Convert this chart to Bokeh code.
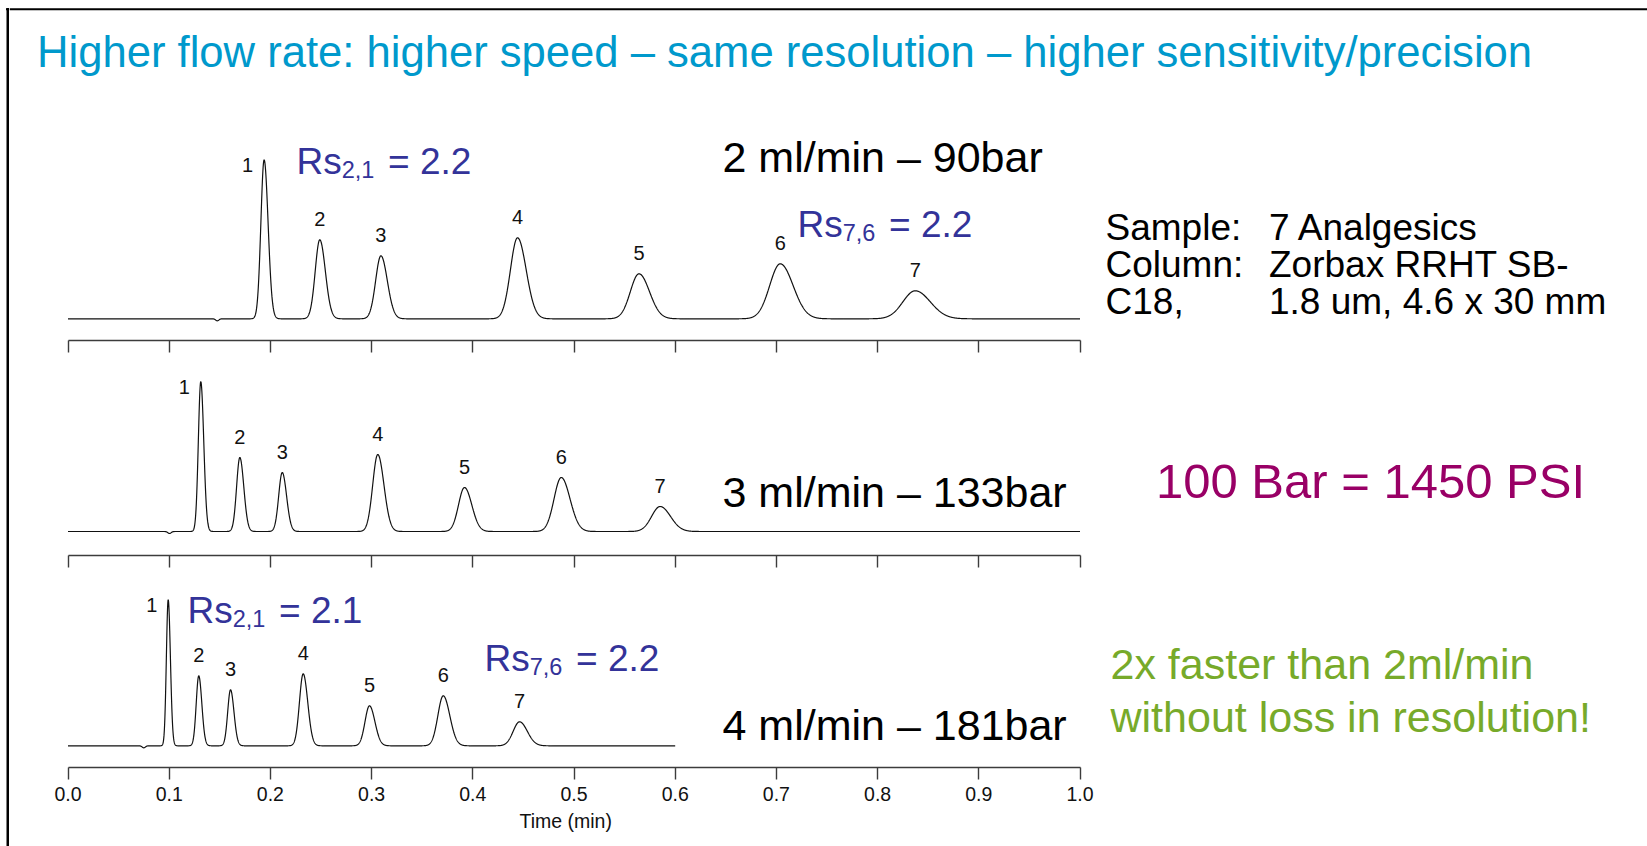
import numpy as np
from bokeh.plotting import figure
from bokeh.layouts import row, column
from bokeh.models import Range1d, FixedTicker, Title
from bokeh.core.properties import value
from bokeh.embed import file_html
from bokeh.resources import INLINE

# ---------------- data ----------------
peak_ids = ["1", "2", "3", "4", "5", "6", "7"]

rt_2ml = [0.1938, 0.2488, 0.3092, 0.4442, 0.5642, 0.7038, 0.8372]
ht_2ml = [159, 79, 63, 81, 45, 55, 28]
sd_2ml = [0.0032, 0.0045, 0.0052, 0.0070, 0.0085, 0.0104, 0.0122]

rt_3ml = [0.1312, 0.1698, 0.2117, 0.3061, 0.3918, 0.4874, 0.5851]
ht_3ml = [150, 74, 59, 77, 44, 54, 25]
sd_3ml = [0.0024, 0.0032, 0.0035, 0.0050, 0.0059, 0.0071, 0.0084]

rt_4ml = [0.0990, 0.1292, 0.1606, 0.2324, 0.2979, 0.3708, 0.4462]
ht_4ml = [146, 70, 56, 72, 40, 50, 24]
sd_4ml = [0.0018, 0.0025, 0.0028, 0.0037, 0.0044, 0.0053, 0.0063]

void_time = [0.1475, 0.1003, 0.0749]
void_depth = [-2.0, -2.0, -2.0]
run_end = [1.0, 1.0, 0.6]
conditions = ["2 ml/min \u2013 90bar", "3 ml/min \u2013 133bar", "4 ml/min \u2013 181bar"]

tick_values = [0.0, 0.1, 0.2, 0.3, 0.4, 0.5, 0.6, 0.7, 0.8, 0.9, 1.0]
tick_labels = ["0.0", "0.1", "0.2", "0.3", "0.4", "0.5", "0.6", "0.7", "0.8", "0.9", "1.0"]
axis_title = "Time (min)"

rs_pairs = ["2,1", "7,6", "2,1", "7,6"]
rs_values = ["2.2", "2.2", "2.1", "2.2"]

title_text = "Higher flow rate: higher speed \u2013 same resolution \u2013 higher sensitivity/precision"
info_keys = ["Sample:", "Column:", "C18,"]
info_vals = ["7 Analgesics", "Zorbax RRHT SB-", "1.8 um, 4.6 x 30 mm"]
pressure_note = "100 Bar = 1450 PSI"
speed_note = ["2x faster than 2ml/min", "without loss in resolution!"]

# ---------------- layout (page pixels) ----------------
FONT = "Liberation Sans"
PAGE_W, PAGE_H = 1647, 846
STRIP = 9
X0, PXM = 67.5, 1012.0
TAIL = 1.22
panels = [
    dict(top=0, axis=340, bottom=358, base=318.3),
    dict(top=358, axis=555, bottom=573, base=531.0),
    dict(top=573, axis=767, bottom=846, base=745.3),
]
series = [(rt_2ml, ht_2ml, sd_2ml), (rt_3ml, ht_3ml, sd_3ml), (rt_4ml, ht_4ml, sd_4ml)]
cond_y = [156.2, 491.8, 724.3]


def tx(X):
    return (X - X0) / PXM


def trace(t, rts, hts, sds, vt, vd):
    y = np.zeros_like(t)
    for r, h, s in zip(rts, hts, sds):
        sig = np.where(t < r, s, s * TAIL)
        y += h * np.exp(-0.5 * ((t - r) / sig) ** 2)
    y += vd * np.exp(-0.5 * ((t - vt) / 0.0016) ** 2)
    return y


figs = []
for i, pn in enumerate(panels):
    base = pn["base"]
    p = figure(width=PAGE_W - STRIP, height=pn["bottom"] - pn["top"],
               x_range=Range1d(tx(STRIP), tx(PAGE_W)),
               y_range=Range1d(base - pn["axis"], base - pn["top"]),
               toolbar_location=None, output_backend="svg",
               y_axis_type=None, outline_line_color=None,
               min_border_left=0, min_border_right=0, min_border_top=0,
               min_border_bottom=pn["bottom"] - pn["axis"])
    p.grid.grid_line_color = None
    ax = p.xaxis[0]
    ax.bounds = (0, 1)
    ax.ticker = FixedTicker(ticks=tick_values)
    ax.minor_tick_line_color = None
    ax.major_tick_in = 0
    ax.major_tick_out = 12
    ax.axis_line_color = "#3c3c3c"
    ax.major_tick_line_color = "#3c3c3c"
    ax.axis_line_width = 1.4
    ax.major_tick_line_width = 1.4
    ax.major_label_text_font = FONT
    ax.major_label_text_color = "#111111"
    if i < 2:
        ax.major_label_overrides = {v: "" for v in tick_values}
        ax.major_label_text_font_size = "0px"
        ax.major_label_standoff = 0
    else:
        ax.major_label_overrides = dict(zip(tick_values, tick_labels))
        ax.major_label_text_font_size = "19.5px"
        ax.major_label_standoff = 7
        p.add_layout(Title(text=axis_title, align="left", offset=510,
                           text_font=FONT, text_font_size="19.5px",
                           text_font_style="normal", text_color="#111111",
                           standoff=8), "below")

    rts, hts, sds = series[i]
    t = np.linspace(0, run_end[i], 4000)
    p.line(t, trace(t, rts, hts, sds, void_time[i], void_depth[i]),
           line_color="#111111", line_width=1.2)

    # peak numbers
    lx = [r + (-16.5 / PXM if k == 0 else 0) for k, r in enumerate(rts)]
    ly = [h - 5 if k == 0 else h + 20.5 for k, h in enumerate(hts)]
    p.text(x=lx, y=ly, text=peak_ids, text_font=value(FONT), text_font_size="20px",
           text_align="center", text_baseline="middle", text_color="#111111")

    # flow condition
    p.text(x=[tx(722)], y=[base - cond_y[i]], text=[conditions[i]], text_font=value(FONT),
           text_font_size="43px", text_align="left", text_baseline="alphabetic",
           text_color="#000000")
    figs.append(p)

p1, p2, p3 = figs
b1, b2, b3 = (pn["base"] for pn in panels)

# title and top border
p1.text(x=[tx(36.5)], y=[b1 - 51.5], text=[title_text], text_font=value(FONT),
        text_font_size="43.6px", text_align="left", text_baseline="alphabetic",
        text_color="#0099cc")
p1.line([tx(STRIP), tx(PAGE_W)], [b1 - 8.7, b1 - 8.7], line_color="#000000", line_width=2)

# sample info
for k in range(3):
    Y = 227 + 37 * k
    p1.text(x=[tx(1105), tx(1268.5)], y=[b1 - Y, b1 - Y], text=[info_keys[k], info_vals[k]],
            text_font=value(FONT), text_font_size="37px", text_align="left",
            text_baseline="alphabetic", text_color="#000000")

# resolution labels
rs_anchor = [(p1, b1, 296, 160.8), (p1, b1, 797, 223.6), (p3, b3, 187, 609.6), (p3, b3, 484, 658.1)]
for (p, b, X, Y), pair, val in zip(rs_anchor, rs_pairs, rs_values):
    kw = dict(text_font=value(FONT), text_align="left", text_baseline="alphabetic", text_color="#333399")
    p.text(x=[tx(X)], y=[b - Y], text=["Rs"], text_font_size="37px", **kw)
    p.text(x=[tx(X + 45.2)], y=[b - Y - 8], text=[pair], text_font_size="23.5px", **kw)
    p.text(x=[tx(X + 91.5)], y=[b - Y], text=["= " + val], text_font_size="37px", **kw)

# pressure note
p2.text(x=[tx(1155.5)], y=[b2 - 480.5], text=[pressure_note], text_font=value(FONT),
        text_font_size="49px", text_align="left", text_baseline="alphabetic", text_color="#990066")

# speed note
p3.text(x=[tx(1110), tx(1110)], y=[b3 - 663, b3 - 716], text=speed_note, text_font=value(FONT),
        text_font_size="43px", text_align="left", text_baseline="alphabetic", text_color="#77aa2a")

# left border strip
s = figure(width=STRIP, height=PAGE_H, x_range=Range1d(0, STRIP), y_range=Range1d(PAGE_H, 0),
           toolbar_location=None, output_backend="svg", x_axis_type=None, y_axis_type=None,
           outline_line_color=None, min_border=0)
s.grid.grid_line_color = None
s.line([7.3, 7.3], [7.6, PAGE_H], line_color="#000000", line_width=2.6)
s.line([5.5, STRIP], [8.7, 8.7], line_color="#000000", line_width=2)

layout = row(s, column(p1, p2, p3, spacing=0), spacing=0)
open("out.html", "w").write(file_html(layout, INLINE, title="chromatogram"))
